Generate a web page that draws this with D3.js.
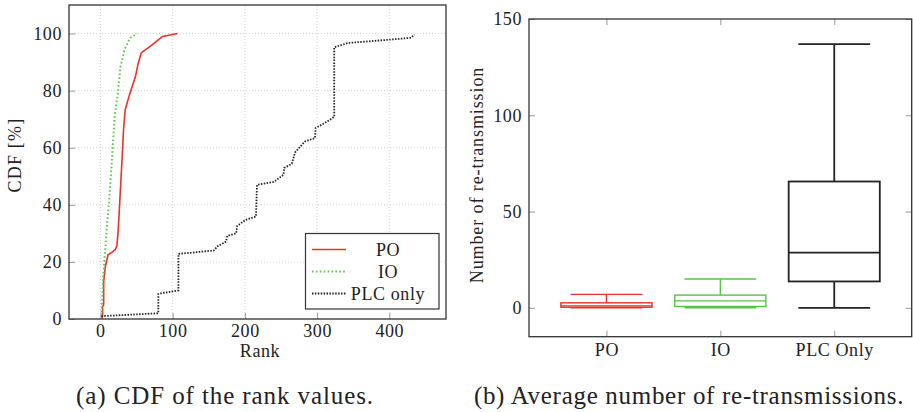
<!DOCTYPE html>
<html><head><meta charset="utf-8">
<script src="https://cdn.jsdelivr.net/npm/d3@7"></script>
<style>
body{margin:0;background:#fff;}
svg text{font-family:"Liberation Serif",serif !important;fill:#222;}
</style></head>
<body><svg id="c" width="913" height="412"></svg>
<script>
// ---------- data: CDF of rank values ----------
const poRank = [2,3,3,4.5,4.5,6.6,10.5,17.3,21,22.8,24.3,25.6,27.9,30.2,32,34.3,40.3,48.6,51.8,56.4,70.2,86.1,106.7];
const poCdf  = [0,1.2,4.3,5,13,18,22.5,23.6,24.5,25.6,30,35.3,46.4,57,66.3,73.3,78.6,85,89,93.2,95.8,99,100];
const ioRank = [1.4,3.6,5.9,9.1,12.8,16.5,19.7,24.2,27.9,33.4,41.3,50.9];
const ioCdf  = [1,13.7,21.9,32.4,44,58,71,79.2,88.5,94.4,98.5,100];
const plcRank = [1.4,80.2,80.2,84,108,108,157,161.8,174,175.5,188,189.3,200.8,215.4,216.8,239.8,253.5,254.5,265,269.6,281,283.4,297.1,298,310.9,323.7,323.7,343,402.5,430,434.7];
const plcCdf  = [1,2,8.8,9,10,22.8,24,25.4,27.1,29.1,30,32.6,34.7,35.9,47,48,50.5,52.9,54.4,58.4,61.6,62.2,63.4,66.9,68.7,70.8,95.2,96.7,97.9,98.5,99.6];
const seriesNames = ["PO","IO","PLC only"];
const xTicksA = [0,100,200,300,400];
const yTicksA = [0,20,40,60,80,100];

// ---------- data: box plot of re-transmissions ----------
const boxCats = ["PO","IO","PLC Only"];
const boxMin  = [0,0,0];
const boxQ1   = [0.3,0.7,13.7];
const boxMed  = [1,3.6,28.7];
const boxQ3   = [2.6,6.6,65.6];
const boxMax  = [7,15,137];
const yTicksB = [0,50,100,150];

const colors = ["#e8322a","#5cc94a","#222222"];
const boxColors = ["#e8322a","#55c443","#222222"];

const svg = d3.select("#c");
const LS = "0.6px";

function styleAxis(g){
  g.attr("font-family",null).attr("font-size",null);
  g.select(".domain").remove();
  g.selectAll(".tick line").attr("stroke","#999");
  g.selectAll(".tick text").attr("font-size",18).attr("fill","#222")
    .attr("font-family","Liberation Serif").attr("letter-spacing",LS);
}

// ======= Left chart =======
const xA = d3.scaleLinear().domain([-43.5,478.5]).range([69,446]);
const yA = d3.scaleLinear().domain([0,110]).range([319,5]);
const gA = svg.append("g");

gA.append("g").selectAll("line").data(xTicksA).join("line")
  .attr("x1",d=>xA(d)).attr("x2",d=>xA(d)).attr("y1",yA(0)).attr("y2",yA(110))
  .attr("stroke","#c8c8c8").attr("stroke-width",0.8).attr("stroke-dasharray","1,2");
gA.append("g").selectAll("line").data(yTicksA).join("line")
  .attr("y1",d=>yA(d)).attr("y2",d=>yA(d)).attr("x1",xA(-43.5)).attr("x2",xA(478.5))
  .attr("stroke","#c8c8c8").attr("stroke-width",0.8).attr("stroke-dasharray","1,2");

const axBA = d3.axisBottom(xA).tickValues(xTicksA).tickSizeInner(-6).tickSizeOuter(0).tickPadding(5);
const axLA = d3.axisLeft(yA).tickValues(yTicksA).tickSizeInner(-6).tickSizeOuter(0).tickPadding(7);
const gxA = gA.append("g").attr("transform","translate(0,319)").call(axBA);
const gyA = gA.append("g").attr("transform","translate(69,0)").call(axLA);
styleAxis(gxA); styleAxis(gyA);
gA.append("rect").attr("x",69).attr("y",5).attr("width",377).attr("height",314)
  .attr("fill","none").attr("stroke","#333").attr("stroke-width",1.3);

const lineA = d3.line().x(d=>xA(d[0])).y(d=>yA(d[1]));
const dataA = [d3.zip(poRank,poCdf), d3.zip(ioRank,ioCdf), d3.zip(plcRank,plcCdf)];
const dash = [null,"1.6,2.3","1.5,1.4"];
const widths = [1.6,2,1.8];
dataA.forEach((pts,i)=>{
  gA.append("path").attr("d",lineA(pts)).attr("fill","none")
    .attr("stroke",colors[i]).attr("stroke-width",widths[i])
    .attr("stroke-dasharray",dash[i]);
});

const lg = gA.append("g");
lg.append("rect").attr("x",305.5).attr("y",233.5).attr("width",133.5).attr("height",75.5)
  .attr("fill","#fff").attr("stroke","#333").attr("stroke-width",1.2);
const legY = [249.5,271.5,293.5];
seriesNames.forEach((n,i)=>{
  lg.append("line").attr("x1",312).attr("x2",346).attr("y1",legY[i]).attr("y2",legY[i])
    .attr("stroke",colors[i]).attr("stroke-width",widths[i]).attr("stroke-dasharray",dash[i]);
  lg.append("text").attr("x",388).attr("y",legY[i]).attr("dy","0.35em")
    .attr("text-anchor","middle").attr("font-size",18).attr("letter-spacing",LS).text(n);
});

svg.append("text").attr("x",260).attr("y",351).attr("dy","0.35em").attr("text-anchor","middle")
  .attr("font-size",18).attr("letter-spacing",LS).text("Rank");
svg.append("text").attr("transform","translate(15,155) rotate(-90)").attr("dy","0.35em")
  .attr("text-anchor","middle").attr("font-size",18).attr("letter-spacing","1.2px").text("CDF [%]");
svg.append("text").attr("x",225).attr("y",395).attr("dy","0.35em").attr("text-anchor","middle")
  .attr("font-size",25).attr("letter-spacing","0.9px").text("(a) CDF of the rank values.");

// ======= Right chart =======
const xB = d3.scaleLinear().domain([0.32,3.68]).range([529,911.7]);
const yB = d3.scaleLinear().domain([-15,150]).range([336.7,19]);
const gB = svg.append("g");
const catPos = boxCats.map((c,i)=>i+1);

const axBB = d3.axisBottom(xB).tickValues(catPos).tickFormat((d,i)=>boxCats[i])
  .tickSizeInner(-6).tickSizeOuter(0).tickPadding(7);
const axTB = d3.axisTop(xB).tickValues(catPos).tickFormat("").tickSizeInner(-6).tickSizeOuter(0);
const axLB = d3.axisLeft(yB).tickValues(yTicksB).tickSizeInner(-6).tickSizeOuter(0).tickPadding(7);
const axRB = d3.axisRight(yB).tickValues(yTicksB).tickFormat("").tickSizeInner(-6).tickSizeOuter(0);
const gxB = gB.append("g").attr("transform","translate(0,336.7)").call(axBB);
const gtB = gB.append("g").attr("transform","translate(0,19)").call(axTB);
const gyB = gB.append("g").attr("transform","translate(529,0)").call(axLB);
const grB = gB.append("g").attr("transform","translate(911.7,0)").call(axRB);
[gxB,gtB,gyB,grB].forEach(styleAxis);
gB.append("rect").attr("x",529).attr("y",19).attr("width",382.7).attr("height",317.7)
  .attr("fill","none").attr("stroke","#333").attr("stroke-width",1.3);

const bw = 0.8, cw = 0.63;
boxCats.forEach((c,i)=>{
  const x = catPos[i], col = boxColors[i], sw = i===2?1.8:1.4;
  const g = gB.append("g").attr("stroke",col).attr("stroke-width",sw).attr("fill","none");
  g.append("line").attr("x1",xB(x)).attr("x2",xB(x)).attr("y1",yB(boxQ3[i])).attr("y2",yB(boxMax[i]));
  g.append("line").attr("x1",xB(x)).attr("x2",xB(x)).attr("y1",yB(boxQ1[i])).attr("y2",yB(boxMin[i]));
  g.append("line").attr("x1",xB(x-cw/2)).attr("x2",xB(x+cw/2)).attr("y1",yB(boxMax[i])).attr("y2",yB(boxMax[i]));
  g.append("line").attr("x1",xB(x-cw/2)).attr("x2",xB(x+cw/2)).attr("y1",yB(boxMin[i])).attr("y2",yB(boxMin[i]));
  g.append("rect").attr("x",xB(x-bw/2)).attr("width",xB(x+bw/2)-xB(x-bw/2))
    .attr("y",yB(boxQ3[i])).attr("height",yB(boxQ1[i])-yB(boxQ3[i]));
  g.append("line").attr("x1",xB(x-bw/2)).attr("x2",xB(x+bw/2)).attr("y1",yB(boxMed[i])).attr("y2",yB(boxMed[i]));
});

svg.append("text").attr("transform","translate(477,175) rotate(-90)").attr("dy","0.35em")
  .attr("text-anchor","middle").attr("font-size",18).attr("letter-spacing","0.9px").text("Number of re-transmission");
svg.append("text").attr("x",689).attr("y",395).attr("dy","0.35em").attr("text-anchor","middle")
  .attr("font-size",25).attr("letter-spacing","0.7px").text("(b) Average number of re-transmissions.");
</script></body></html>
